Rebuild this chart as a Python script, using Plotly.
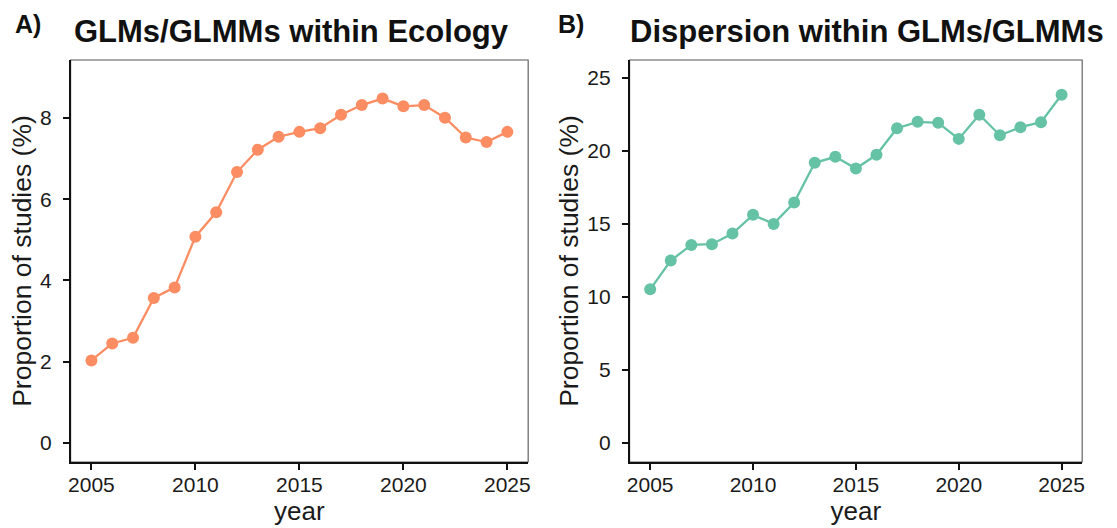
import plotly.graph_objects as go
from plotly.subplots import make_subplots

years = list(range(2005, 2026))
glm_ecology = [2.03, 2.45, 2.59, 3.57, 3.83, 5.08, 5.68, 6.67, 7.22, 7.54, 7.66,
               7.75, 8.08, 8.32, 8.48, 8.29, 8.32, 8.01, 7.52, 7.41, 7.66]
dispersion = [10.50, 12.47, 13.54, 13.59, 14.32, 15.60, 14.98, 16.44, 19.16, 19.57, 18.77,
              19.71, 21.53, 21.97, 21.90, 20.80, 22.45, 21.05, 21.60, 21.94, 23.82]
x_ticks = [2005, 2010, 2015, 2020, 2025]
yticks_a = [0, 2, 4, 6, 8]
yticks_b = [0, 5, 10, 15, 20, 25]

col_a = "#FC8D62"
col_b = "#66C2A5"
FONT = "Liberation Sans, Arial, Helvetica, sans-serif"
TXT = "#1a1a1a"

fig = make_subplots(rows=1, cols=2)
fig.add_trace(go.Scatter(x=years, y=glm_ecology, mode="lines+markers",
                         line=dict(color=col_a, width=2.3),
                         marker=dict(color=col_a, size=12), showlegend=False), row=1, col=1)
fig.add_trace(go.Scatter(x=years, y=dispersion, mode="lines+markers",
                         line=dict(color=col_b, width=2.3),
                         marker=dict(color=col_b, size=12), showlegend=False), row=1, col=2)

W, H = 1117, 528
axis_common = dict(showline=True, linecolor="#111111", linewidth=1.7, mirror=False,
                   ticks="outside", ticklen=6, tickwidth=1.5, tickcolor="#111111",
                   showgrid=False, zeroline=False,
                   tickfont=dict(size=21, color=TXT, family=FONT))

fig.update_xaxes(**axis_common, range=[2004, 2026], tickvals=x_ticks, ticklabelstandoff=-3,
                 title=dict(text="year", font=dict(size=26, color=TXT, family=FONT), standoff=7))
fig.update_yaxes(**axis_common, ticklabelstandoff=7,
                 title=dict(text="Proportion of studies (%)", font=dict(size=26.5, color=TXT, family=FONT), standoff=1))

fig.update_layout(
    xaxis=dict(domain=[68 / W, 528 / W]),
    xaxis2=dict(domain=[630 / W, 1085 / W]),
    yaxis=dict(domain=[1 - 462 / H, 1 - 60 / H], range=[-0.47, 9.43], tickvals=yticks_a),
    yaxis2=dict(domain=[1 - 462 / H, 1 - 60 / H], range=[-1.32, 26.2], tickvals=yticks_b),
)

shapes = []
for xr, yr in (("x", "y"), ("x2", "y2")):
    shapes.append(dict(type="rect", xref=f"{xr} domain", yref=f"{yr} domain",
                       x0=0, x1=1, y0=0, y1=1, line=dict(color="#555555", width=1.1),
                       fillcolor="rgba(0,0,0,0)", layer="below"))

annotations = [
    dict(text="<b>A)</b>", x=10 / W, y=1 - 24 / H, xanchor="left", yanchor="middle",
         font=dict(size=25, color="#111111", family=FONT)),
    dict(text="<b>GLMs/GLMMs within Ecology</b>", x=290 / W, y=1 - 32 / H, xanchor="center", yanchor="middle",
         font=dict(size=31, color="#111111", family=FONT)),
    dict(text="<b>B)</b>", x=556 / W, y=1 - 24 / H, xanchor="left", yanchor="middle",
         font=dict(size=25, color="#111111", family=FONT)),
    dict(text="<b>Dispersion within GLMs/GLMMs</b>", x=869 / W, y=1 - 32 / H, xanchor="center", yanchor="middle",
         font=dict(size=31, color="#111111", family=FONT)),
]
for a in annotations:
    a.update(xref="paper", yref="paper", showarrow=False)

fig.update_layout(annotations=annotations, shapes=shapes, width=W, height=H,
                  margin=dict(l=0, r=0, t=0, b=0),
                  paper_bgcolor="white", plot_bgcolor="white",
                  font=dict(family=FONT))

fig.write_html("out.html")
